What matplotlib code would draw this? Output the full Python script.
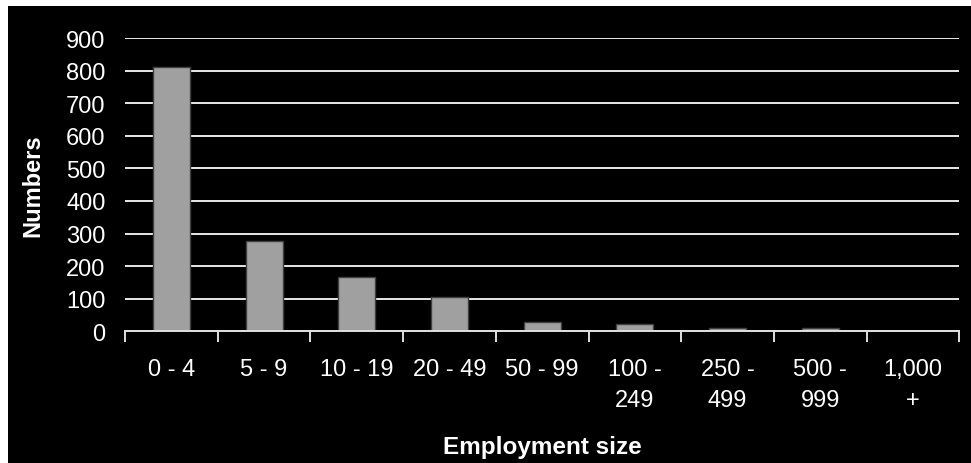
import matplotlib
matplotlib.use("Agg")
import matplotlib.pyplot as plt
from matplotlib.patches import Rectangle
import numpy as np

categories = ["0 - 4", "5 - 9", "10 - 19", "20 - 49", "50 - 99",
              "100 -\n249", "250 -\n499", "500 -\n999", "1,000\n+"]
values = [810, 276, 166, 106, 30, 22, 9, 9, 0]
yticks = [0, 100, 200, 300, 400, 500, 600, 700, 800, 900]

plt.rcParams['font.family'] = ['Liberation Sans', 'DejaVu Sans']

W, H = 971, 464
fig = plt.figure(figsize=(W / 100, H / 100), dpi=100)
fig.patch.set_facecolor("white")
fig.patches.append(Rectangle((8 / W, 0), 1 - 8 / W, 1 - 7 / H,
                             transform=fig.transFigure, facecolor="black",
                             edgecolor="none", zorder=-10))

left, right = 125 / W, 959.3 / W
bottom, top = 1 - 332.3 / H, 1 - 39 / H
ax = fig.add_axes([left, bottom, right - left, top - bottom])
ax.set_facecolor("black")

x = np.arange(len(categories))
ax.bar(x, values, width=0.4, color="#a0a0a0", edgecolor="#404040",
       linewidth=1.0, zorder=2)

ax.set_xlim(-0.5, len(categories) - 0.5)
ax.set_ylim(0, 900)
ax.set_yticks(yticks)
ax.set_yticklabels([str(v) for v in yticks])
ax.yaxis.grid(True, color="#e8e8e8", linewidth=1.4, zorder=1)
ax.set_axisbelow(True)
ax.tick_params(axis="y", length=0, pad=14, labelsize=17, colors="white")

ax.set_xticks(x)
ax.set_xticklabels(categories, linespacing=1.55)
ax.set_xticks(np.arange(len(categories) + 1) - 0.5, minor=True)
ax.tick_params(axis="x", which="major", length=0, pad=19, labelsize=17,
               colors="white")
ax.tick_params(axis="x", which="minor", length=8, width=1.4, color="#e0e0e0",
               direction="out")
for lbl in ax.get_xticklabels():
    lbl.set_verticalalignment("top")

for s in ["top", "right", "left"]:
    ax.spines[s].set_visible(False)
ax.spines["bottom"].set_color("#e0e0e0")
ax.spines["bottom"].set_linewidth(1.4)
ax.spines["bottom"].set_zorder(3)

ax.set_ylabel("Numbers", fontsize=17, fontweight="bold", color="white",
              labelpad=0)
ax.yaxis.set_label_coords((33 - 125) / (959.3 - 125), 0.5)
ax.yaxis.label.set_verticalalignment("center")
ax.set_xlabel("Employment size", fontsize=17.5, fontweight="bold",
              color="white")
ax.xaxis.set_label_coords(0.5, -(448 - 332.3) / (332.3 - 39))
ax.xaxis.label.set_verticalalignment("center")

fig.savefig("out.png", dpi=100, facecolor=fig.get_facecolor())
